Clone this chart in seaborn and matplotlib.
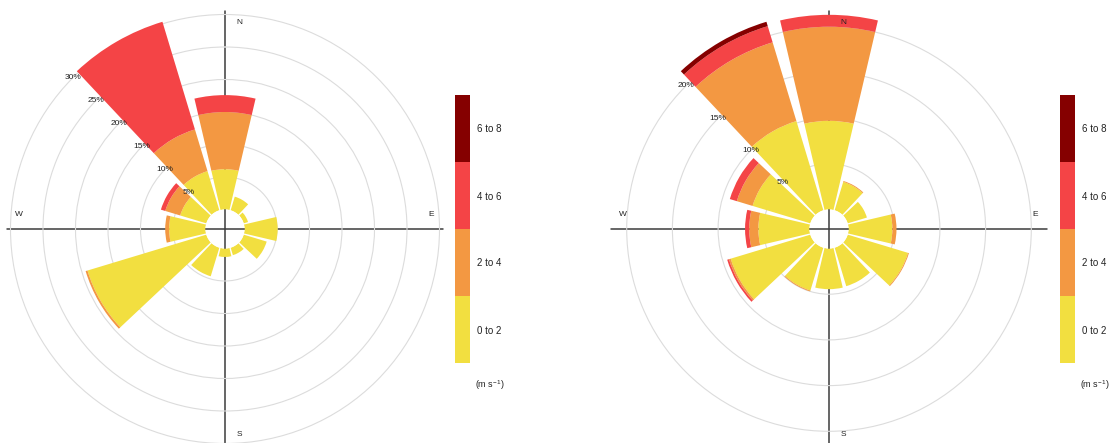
import numpy as np
import matplotlib
matplotlib.use("Agg")
import matplotlib.pyplot as plt
from matplotlib.colors import ListedColormap
import seaborn as sns

# ---- data -------------------------------------------------------------
directions = [0, 30, 60, 90, 120, 150, 180, 210, 240, 270, 300, 330]
speed_bins = ["0 to 2", "2 to 4", "4 to 6", "6 to 8"]
bin_colors = ["#F2DF40", "#F39842", "#F44446", "#850000"]

# frequency of counts (%) per wind speed bin, first site
site1_0_2 = [6.2, 2.2, 0.7, 5.1, 3.7, 1.2, 1.3, 4.6, 19.1, 5.6, 4.2, 6.3]
site1_2_4 = [8.8, 0.0, 0.0, 0.0, 0.0, 0.0, 0.0, 0.0, 0.3, 0.6, 2.4, 6.7]
site1_4_6 = [2.6, 0.0, 0.0, 0.0, 0.0, 0.0, 0.0, 0.0, 0.0, 0.0, 0.7, 17.3]
site1_6_8 = [0.0, 0.0, 0.0, 0.0, 0.0, 0.0, 0.0, 0.0, 0.0, 0.0, 0.0, 0.0]

# frequency of counts (%) per wind speed bin, second site
site2_0_2 = [9.7, 3.25, 2.2, 4.8, 6.9, 4.4, 4.45, 4.9, 9.1, 5.6, 6.6, 10.2]
site2_2_4 = [10.3, 0.1, 0.0, 0.45, 0.1, 0.0, 0.0, 0.1, 0.2, 1.0, 1.8, 9.0]
site2_4_6 = [1.3, 0.0, 0.0, 0.0, 0.0, 0.0, 0.0, 0.0, 0.2, 0.45, 0.8, 1.85]
site2_6_8 = [0.0, 0.0, 0.0, 0.0, 0.0, 0.0, 0.0, 0.0, 0.0, 0.0, 0.0, 0.5]

site1_rings = [5, 10, 15, 20, 25, 30]
site2_rings = [5, 10, 15, 20]

# ---- style ------------------------------------------------------------
sns.set_theme(style="white")
plt.rcParams["font.family"] = ["Liberation Sans", "DejaVu Sans"]
plt.rcParams["mathtext.default"] = "regular"

W, H = 1117, 443
fig = plt.figure(figsize=(W / 100, H / 100), dpi=100)
fig.patch.set_facecolor("white")

R_PX = 218      # radius of each rose panel in pixels
HOLE_PX = 19.5  # radius of the calm hole in pixels


def rose(cx, cy, bins, rings, px_per_pct):
    left = (cx - R_PX) / W
    bottom = (H - cy - R_PX) / H
    ax = fig.add_axes([left, bottom, 2 * R_PX / W, 2 * R_PX / H],
                      projection="polar")
    ax.set_theta_zero_location("N")
    ax.set_theta_direction(-1)
    ax.set_rorigin(-HOLE_PX / px_per_pct)
    ax.set_ylim(0, (R_PX - HOLE_PX) / px_per_pct)
    ax.set_facecolor("none")
    ax.patch.set_edgecolor("none")
    ax.set_axisbelow(True)
    for sp in ax.spines.values():
        sp.set_visible(False)
        sp.set_color("none")
        sp.set_linewidth(0)
    ax.set_xticks([])
    ax.set_yticks(rings)
    ax.set_yticklabels([])
    ax.yaxis.grid(True, color="#DCDCDC", lw=0.8)
    ax.xaxis.grid(False)

    # compass cross
    ax.plot([0.5, 0.5], [0, 1], transform=ax.transAxes, color="#3C3C3C",
            lw=1.1, clip_on=False, zorder=0.5)
    ax.plot([0, 1], [0.5, 0.5], transform=ax.transAxes, color="#3C3C3C",
            lw=1.1, clip_on=False, zorder=0.5)

    theta = np.deg2rad(directions)
    base = np.zeros(len(directions))
    for vals, col in zip(bins, bin_colors):
        vals = np.asarray(vals, dtype=float)
        ax.bar(theta, vals, width=np.deg2rad(26.4), bottom=base,
               color=col, edgecolor="none", linewidth=0, align="center",
               zorder=2)
        base = base + vals

    for r in rings:
        ax.text(np.deg2rad(315), r, f"{r}%", ha="center", va="center",
                fontsize=6, color="#222222", zorder=5)

    lab = dict(transform=ax.transAxes, fontsize=6, color="#222222",
               ha="center", va="center")
    off = 14.5 / (2 * R_PX)
    far = 206 / (2 * R_PX)
    ax.text(0.5 + off, 0.5 + far, "N", **lab)
    ax.text(0.5 + off, 0.5 - far, "S", **lab)
    ax.text(0.5 + far, 0.5 + off, "E", **lab)
    ax.text(0.5 - far, 0.5 + off, "W", **lab)
    return ax


def speed_key(x0):
    kx = fig.add_axes([x0 / W, (H - 363) / H, 15 / W, 268 / H])
    sns.heatmap(np.arange(len(speed_bins))[::-1].reshape(-1, 1),
                cmap=ListedColormap(bin_colors), vmin=-0.5,
                vmax=len(speed_bins) - 0.5, cbar=False, ax=kx,
                xticklabels=False, yticklabels=speed_bins[::-1])
    kx.yaxis.tick_right()
    kx.tick_params(axis="y", length=0, labelsize=7, pad=5, colors="#222222")
    for t in kx.get_yticklabels():
        t.set_rotation(0)
    fig.text((x0 + 20) / W, (H - 385) / H, "(m s$^{-1}$)", fontsize=6.5,
             color="#222222", ha="left", va="center")


rose(225, 229, [site1_0_2, site1_2_4, site1_4_6, site1_6_8],
     site1_rings, 32.5 / 5)
rose(829, 229, [site2_0_2, site2_2_4, site2_4_6, site2_6_8],
     site2_rings, 45.7 / 5)
speed_key(455)
speed_key(1060)

fig.savefig("out.png", dpi=100, facecolor="white")
